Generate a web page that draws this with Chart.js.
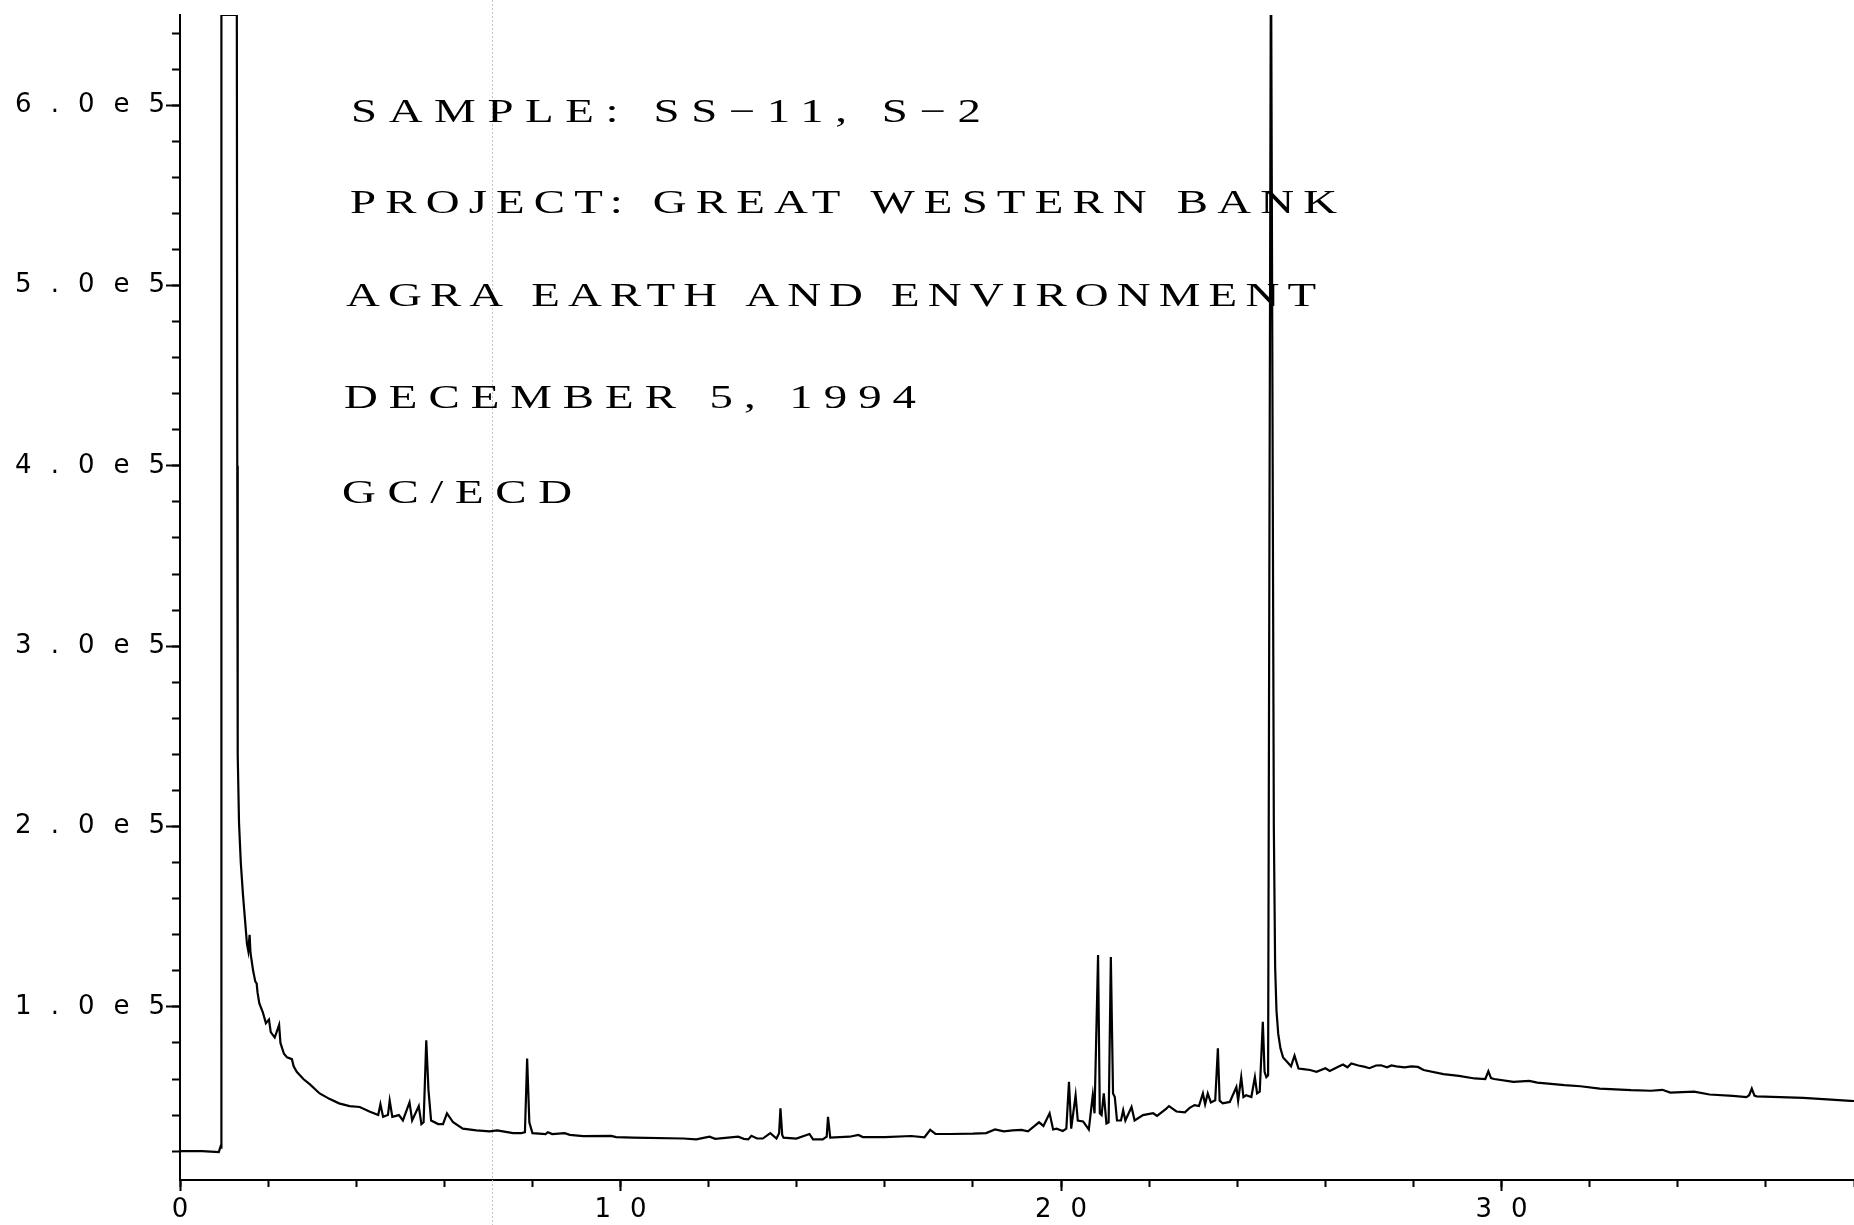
<!DOCTYPE html>
<html>
<head>
<meta charset="utf-8">
<script src="https://cdn.jsdelivr.net/npm/chart.js@4"></script>
<style>
  html, body { margin: 0; padding: 0; background: #fff; }
  canvas { display: block; }
</style>
</head>
<body>
<canvas id="myChart" width="1854" height="1225"></canvas>
<script>
let chartInstance = null;

// retention time (min)
const times = [
  0, 0.5, 0.8, 0.88, 0.9, 0.92, 0.935, 0.94, 1.29, 1.3, 1.31, 1.34, 1.38, 1.43, 1.48, 1.52, 1.55, 1.58, 1.6, 1.66,
  1.71, 1.74, 1.76, 1.8, 1.88, 1.95, 2.02, 2.06, 2.15, 2.25, 2.28, 2.36, 2.43, 2.54, 2.58, 2.65, 2.8, 2.95, 3.17, 3.39,
  3.61, 3.85, 4.08, 4.3, 4.5, 4.55, 4.61, 4.72, 4.76, 4.82, 4.97, 5.06, 5.21, 5.27, 5.42, 5.48, 5.53, 5.59, 5.64, 5.7,
  5.86, 5.97, 6.06, 6.2, 6.42, 6.73, 7.03, 7.2, 7.33, 7.56, 7.75, 7.83, 7.88, 7.93, 8.0, 8.3, 8.35, 8.45, 8.73, 8.85,
  9.15, 9.79, 9.9, 10.28, 11.42, 11.72, 12.02, 12.15, 12.67, 12.8, 12.9, 12.97, 13.1, 13.23, 13.4, 13.54, 13.6, 13.63, 13.67, 13.7,
  13.99, 14.29, 14.37, 14.59, 14.68, 14.71, 14.76, 15.2, 15.4, 15.5, 16.0, 16.6, 16.9, 17.03, 17.15, 17.5, 18.0, 18.3, 18.5, 18.7,
  18.9, 19.1, 19.25, 19.4, 19.5, 19.6, 19.74, 19.82, 19.9, 20.04, 20.12, 20.18, 20.23, 20.33, 20.38, 20.5, 20.63, 20.72, 20.76, 20.84,
  20.88, 20.92, 20.97, 21.03, 21.08, 21.13, 21.18, 21.22, 21.27, 21.36, 21.41, 21.46, 21.6, 21.67, 21.86, 22.09, 22.18, 22.39, 22.45, 22.62,
  22.81, 22.92, 23.03, 23.13, 23.22, 23.27, 23.33, 23.4, 23.5, 23.56, 23.6, 23.67, 23.83, 23.98, 24.02, 24.09, 24.14, 24.2, 24.32, 24.4,
  24.45, 24.51, 24.58, 24.62, 24.66, 24.7, 24.765, 24.83, 24.86, 24.89, 24.93, 24.98, 25.04, 25.15, 25.22, 25.3, 25.39, 25.5, 25.65, 25.8,
  26.0, 26.1, 26.28, 26.4, 26.5, 26.59, 26.75, 26.9, 27.0, 27.15, 27.26, 27.4, 27.5, 27.61, 27.8, 27.95, 28.1, 28.23, 28.68, 29.03,
  29.39, 29.63, 29.7, 29.76, 29.83, 30.27, 30.63, 30.81, 31.43, 31.79, 32.23, 32.94, 33.39, 33.65, 33.83, 34.37, 34.72, 35.25, 35.56, 35.62,
  35.68, 35.74, 35.79, 36.32, 36.85, 37.39, 37.92, 38.0
];

// detector response
const signal = [
  20000, 20000, 19600, 19500, 21000, 22500, 22000, 650000, 650000, 400000, 240000, 202000, 180000, 162000, 147000, 135000, 131000, 140000, 130000, 120000,
  114000, 113000, 108000, 102000, 97000, 91000, 93000, 86000, 83000, 90000, 80000, 74000, 72000, 71000, 67000, 64000, 60000, 57000, 52000, 49000,
  46500, 45000, 44500, 42000, 40000, 46000, 39000, 40000, 48000, 39000, 40000, 37000, 47000, 37000, 45000, 35000, 36000, 81500, 54000, 37000,
  35000, 35000, 41000, 36000, 32500, 31500, 31000, 31500, 31000, 30000, 30000, 30500, 71300, 36000, 30000, 29500, 30500, 29500, 30000, 29000,
  28300, 28500, 27800, 27500, 27000, 26500, 28000, 26800, 28000, 26800, 26500, 28500, 27000, 27000, 30000, 27000, 30000, 43700, 29000, 27500,
  27000, 29500, 26500, 26500, 28000, 39000, 27500, 28000, 29000, 27800, 27800, 28400, 27700, 31800, 29600, 29500, 29700, 30000, 32000, 31000,
  31500, 31800, 31000, 34000, 36000, 34000, 41000, 32000, 32500, 31200, 32500, 58400, 32500, 51000, 37000, 36500, 32000, 51000, 41000, 128700,
  41000, 40000, 52000, 35300, 36000, 127700, 52000, 50000, 37000, 37000, 42700, 37000, 44500, 37000, 40000, 41000, 39500, 43600, 45000, 42000,
  41500, 44000, 45500, 45000, 52000, 46000, 52000, 47000, 48200, 77000, 48000, 46500, 47300, 55600, 48000, 61000, 50000, 51000, 50000, 61000,
  52000, 53000, 91700, 64000, 61000, 62000, 700000, 200000, 122000, 98000, 85000, 77000, 72000, 69000, 67000, 73000, 65800, 65500, 65000, 64000,
  66000, 64500, 66700, 68000, 66500, 68600, 67500, 66700, 66000, 67500, 67600, 66500, 67500, 67000, 66500, 67000, 66700, 65000, 62700, 61700,
  60300, 60000, 64300, 60500, 60000, 58400, 59000, 58000, 56600, 56000, 54700, 53800, 53500, 54000, 52500, 53000, 51400, 50600, 50000, 51000,
  54700, 50800, 50400, 50000, 49500, 48700, 47900, 47800
];

const yMajorTicks = [100000, 200000, 300000, 400000, 500000, 600000];
const yTickLabels = ["1.0e5", "2.0e5", "3.0e5", "4.0e5", "5.0e5", "6.0e5"];
const xMajorTicks = [0, 10, 20, 30];
const xTickLabels = ["0", "10", "20", "30"];

const noteLines = [
  "SAMPLE: SS\u221211, S\u22122",
  "PROJECT: GREAT WESTERN BANK",
  "AGRA EARTH AND ENVIRONMENT",
  "DECEMBER 5, 1994",
  "GC/ECD"
];

const yMin = 4000;
const yMax = 650000;
const xMin = 0;
const xMax = 38;

// unlabelled small ticks
const yMinorTicks = [];
for (let v = 20000; v < yMax; v += 20000) yMinorTicks.push(v);
const xMinorTicks = [];
for (let t = 0; t <= xMax; t += 2) xMinorTicks.push(t);

const tickSpacing = 19;
const axisFont = { family: "DejaVu Sans", size: 26 };

// text block layout: left edge, right edge, baseline (pixels)
const noteBox = [[351, 981, 122], [350, 1337, 213], [346, 1316, 306], [344, 916, 408], [342, 572, 503]];
const noteStretch = 1.42;
// faint fold line in the scanned sheet
const foldAt = 7.09;

const notesPlugin = {
  id: "notes",
  beforeDraw(chart) {
    chart.ctx.letterSpacing = tickSpacing + "px";
  },
  beforeDatasetsDraw(chart) {
    const ctx = chart.ctx;
    const x = Math.round(chart.scales.x.getPixelForValue(foldAt)) + 0.5;
    ctx.save();
    ctx.strokeStyle = "#c4c4c4";
    ctx.lineWidth = 1;
    ctx.setLineDash([2, 2]);
    ctx.beginPath();
    ctx.moveTo(x, 0);
    ctx.lineTo(x, chart.height);
    ctx.stroke();
    ctx.restore();
  },
  afterDraw(chart) {
    const ctx = chart.ctx;
    ctx.save();
    ctx.font = "33px 'Liberation Serif'";
    ctx.fillStyle = "#000";
    ctx.textBaseline = "alphabetic";
    ctx.textAlign = "left";
    noteLines.forEach((line, i) => {
      const [left, right, base] = noteBox[i];
      ctx.letterSpacing = "0px";
      const natural = ctx.measureText(line).width;
      const gap = ((right - left) / noteStretch - natural) / (line.length - 1);
      ctx.save();
      ctx.letterSpacing = gap + "px";
      ctx.translate(left, base);
      ctx.scale(noteStretch, 1);
      ctx.fillText(line, 0, 0);
      ctx.restore();
    });
    ctx.restore();
  }
};

function handleOnLoad() {
  displayChart();
}

function displayChart() {
  const points = times.map((t, i) => ({ x: t, y: signal[i] }));

  if (chartInstance) {
    chartInstance.destroy();
  }

  chartInstance = new Chart("myChart", {
    type: "line",
    data: {
      datasets: [{
        data: points,
        borderColor: "#000",
        borderWidth: 2.2,
        pointRadius: 0,
        tension: 0,
        fill: false,
      }],
    },
    options: {
      responsive: false,
      animation: false,
      devicePixelRatio: 1,
      layout: { padding: { top: 15, left: 0, right: 0, bottom: 0 } },
      plugins: {
        legend: { display: false },
        tooltip: { enabled: false },
      },
      scales: {
        x: {
          type: "linear",
          position: "bottom",
          min: xMin,
          max: xMax,
          bounds: "data",
          weight: 1,
          afterBuildTicks: (s) => { s.ticks = xMajorTicks.map((v) => ({ value: v })); },
          afterFit: (s) => { s.height = 45; },
          grid: { drawOnChartArea: false, tickLength: 11, tickWidth: 2, tickColor: "#000" },
          border: { display: true, color: "#000", width: 2 },
          ticks: {
            callback: (v) => xTickLabels[xMajorTicks.indexOf(v)],
            font: axisFont,
            color: "#000",
            padding: 4,
            maxRotation: 0,
            autoSkip: false,
            labelOffset: tickSpacing / 2,
          },
        },
        xMinor: {
          type: "linear",
          position: "bottom",
          min: xMin,
          max: xMax,
          bounds: "data",
          weight: 0,
          afterBuildTicks: (s) => { s.ticks = xMinorTicks.map((v) => ({ value: v })); },
          afterFit: (s) => { s.height = 0; },
          grid: { drawOnChartArea: false, tickLength: 7, tickWidth: 2, tickColor: "#000" },
          border: { display: false },
          ticks: { display: false, autoSkip: false },
        },
        y: {
          type: "linear",
          position: "left",
          min: yMin,
          max: yMax,
          bounds: "data",
          weight: 1,
          afterBuildTicks: (s) => { s.ticks = yMajorTicks.map((v) => ({ value: v })); },
          afterFit: (s) => { s.width = 180; },
          grid: { drawOnChartArea: false, tickLength: 14, tickWidth: 2, tickColor: "#000" },
          border: { display: true, color: "#000", width: 2 },
          ticks: {
            callback: (v) => yTickLabels[yMajorTicks.indexOf(v)],
            font: axisFont,
            color: "#000",
            padding: 1 - tickSpacing,
            autoSkip: false,
          },
        },
        yMinor: {
          type: "linear",
          position: "left",
          min: yMin,
          max: yMax,
          bounds: "data",
          weight: 0,
          afterBuildTicks: (s) => { s.ticks = yMinorTicks.map((v) => ({ value: v })); },
          afterFit: (s) => { s.width = 0; },
          grid: { drawOnChartArea: false, tickLength: 8, tickWidth: 2, tickColor: "#000" },
          border: { display: false },
          ticks: { display: false, autoSkip: false },
        },
      },
    },
    plugins: [notesPlugin],
  });
}

window.onload = handleOnLoad;
</script>
</body>
</html>
